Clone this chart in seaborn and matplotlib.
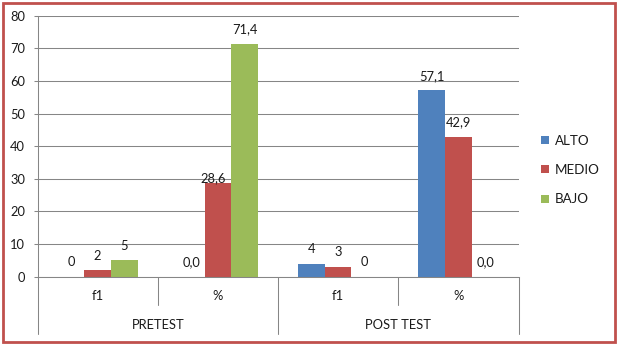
import matplotlib
matplotlib.use("Agg")
import matplotlib.pyplot as plt
import matplotlib.transforms as mtransforms
from matplotlib.patches import Rectangle
from matplotlib.lines import Line2D
import seaborn as sns
import pandas as pd

# ---- data ----
phases = ["PRETEST", "PRETEST", "POST TEST", "POST TEST"]
measures = ["f1", "%", "f1", "%"]
series = ["ALTO", "MEDIO", "BAJO"]
alto = [0, 0.0, 4, 57.1]
medio = [2, 28.6, 3, 42.9]
bajo = [5, 71.4, 0, 0.0]
y_ticks = [0, 10, 20, 30, 40, 50, 60, 70, 80]
colors = ["#4F81BD", "#C0504D", "#9BBB59"]

cats = [f"{p}|{m}" for p, m in zip(phases, measures)]
rows = []
for s, vals in zip(series, [alto, medio, bajo]):
    for c, m, v in zip(cats, measures, vals):
        rows.append({"cat": c, "serie": s, "valor": v, "measure": m})
df = pd.DataFrame(rows)

sns.set_style("white")
plt.rcParams["font.family"] = ["Lato", "DejaVu Sans"]
FS = 9.3
TXT = "#1a1a1a"
GRAY = "#868686"

fig = plt.figure(figsize=(6.18, 3.44), dpi=100)
ax = fig.add_axes([0.0607, 0.1956, 0.7783, 0.7587])

sns.barplot(data=df, x="cat", y="valor", hue="serie", order=cats,
            hue_order=series, palette=colors, width=0.667, saturation=1,
            linewidth=0, ax=ax, legend=False, errorbar=None)

ax.set_ylim(0, 80)
ax.set_yticks(y_ticks)
ax.set_yticklabels([str(t) for t in y_ticks], fontsize=FS, color=TXT)
ax.set_xlim(-0.5, 3.5)
ax.set_xticks([])
ax.set_xlabel("")
ax.set_ylabel("")
ax.grid(axis="y", color=GRAY, linewidth=0.75)
ax.set_axisbelow(True)
for sp in ["top", "right"]:
    ax.spines[sp].set_visible(False)
for sp in ["left", "bottom"]:
    ax.spines[sp].set_color(GRAY)
    ax.spines[sp].set_linewidth(0.75)
ax.tick_params(axis="y", length=3, width=0.75, color=GRAY, pad=6, left=True)

# data labels
for s, vals, cont in zip(series, [alto, medio, bajo], ax.containers):
    for i, bar in enumerate(cont):
        v = vals[i]
        txt = f"{int(v)}" if measures[i] == "f1" else f"{v:.1f}".replace(".", ",")
        dx, dy = 0, 10.5
        if s == "MEDIO" and cats[i] == "PRETEST|%":
            dx, dy = -3.6, 3.8
        ax.annotate(txt, (bar.get_x() + bar.get_width() / 2, bar.get_height()),
                    xytext=(dx, dy), textcoords="offset points",
                    ha="center", va="center", fontsize=FS, color=TXT)

# multi-level category axis
trans = mtransforms.blended_transform_factory(ax.transData, ax.transAxes)
inner_bot = -0.108
outer_bot = -0.22
for xpos in [0.5, 2.5]:
    ax.add_line(Line2D([xpos, xpos], [0, inner_bot], transform=trans,
                       color=GRAY, lw=0.75, clip_on=False))
for xpos in [-0.5, 1.5, 3.5]:
    ax.add_line(Line2D([xpos, xpos], [0, outer_bot], transform=trans,
                       color=GRAY, lw=0.75, clip_on=False))
for i, m in enumerate(measures):
    ax.text(i, -0.074, m, transform=trans, ha="center", va="center",
            fontsize=FS, color=TXT)
seen = []
for i, p in enumerate(phases):
    if p not in seen:
        seen.append(p)
        idx = [j for j, q in enumerate(phases) if q == p]
        ax.text(sum(idx) / len(idx), -0.185, p, transform=trans,
                ha="center", va="center", fontsize=FS, color=TXT)

# legend
handles = [Line2D([], [], marker="s", linestyle="none", markersize=5.5,
                  markerfacecolor=c, markeredgewidth=0) for c in colors]
fig.legend(handles, series, loc="center left", bbox_to_anchor=(540 / 618, 0.506),
           frameon=False, fontsize=FS + 0.3, handlelength=0.8, handletextpad=0.3,
           labelspacing=1.3, borderpad=0, borderaxespad=0,
           labelcolor=TXT)

# red frame around the figure
W, H = 618, 344
fig.patches.append(Rectangle((2.5 / W, 2.5 / H), (W - 5.5) / W, (H - 5) / H,
                             transform=fig.transFigure, fill=False,
                             edgecolor="#C0504D", linewidth=2.0))

fig.savefig("out.png", dpi=100, facecolor="white")
